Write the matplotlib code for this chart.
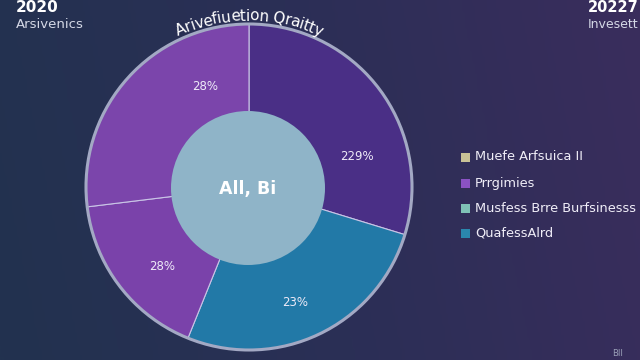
import numpy as np
import matplotlib
matplotlib.use("Agg")
import matplotlib.pyplot as plt
from matplotlib.colors import LinearSegmentedColormap
from matplotlib.textpath import text_to_path
from matplotlib.font_manager import FontProperties

# ---- data ----
segments = ["Right", "Blue", "Lower left", "Upper left"]
values = [107, 95, 61, 97]
pct_labels = ["229%", "23%", "28%", "28%"]
colors = ["#4a2f86", "#2279a7", "#7a42aa", "#7b45ab"]
legend_labels = ["Muefe Arfsuica II", "Prrgimies", "Musfess Brre Burfsinesss", "QuafessAlrd"]
legend_colors = ["#c9c296", "#8a52c4", "#7fc2b6", "#2a87ad"]
title = "Arivefiuetion Qraitty"
center_text = "All, Bi"

W, H = 640, 360
fig = plt.figure(figsize=(6.4, 3.6), dpi=100)
ax = fig.add_axes([0, 0, 1, 1])

# background gradient
cmap = LinearSegmentedColormap.from_list("bg", ["#22324f", "#2b2f56", "#3a2d5d"])
gx = np.linspace(0, 1, 256)
gy = np.linspace(0, 1, 64)
G = gx[None, :] * 0.9 + gy[:, None] * 0.1
ax.imshow(G, extent=[0, W, 0, H], cmap=cmap, aspect="auto", origin="lower", zorder=0)

cx, cy, R = 249, 360 - 187, 163
wedges, _ = ax.pie(values, colors=colors, startangle=90, counterclock=False,
                   center=(cx, cy), radius=R, frame=True,
                   wedgeprops=dict(edgecolor="#c9c4e6", linewidth=0.8))
ax.set_xlim(0, W)
ax.set_ylim(0, H)
ax.set_aspect("auto")
ax.axis("off")
ring = plt.Circle((cx, cy), R, fill=False, edgecolor="#a3a9c4", linewidth=2.2, zorder=5)
ax.add_patch(ring)
inner = plt.Circle((cx - 1, cy - 1), 77, facecolor="#8fb4c8", edgecolor="none", zorder=6)
ax.add_patch(inner)
ax.text(cx - 1, cy - 2, center_text, color="white", fontsize=12.5, ha="center", va="center",
        fontweight="bold", zorder=7)

# percentage labels
label_pos = [(357, 157), (295, 302), (162, 267), (205, 87)]
for (px, py), t in zip(label_pos, pct_labels):
    ax.text(px, H - py, t, color="#eeeaf8", fontsize=8.5, ha="center", va="center", zorder=7)

# curved title along arc
tsize = 11
fp = FontProperties(family="DejaVu Sans", size=tsize)
arc_r = 171
px_per_pt = 100 / 72.0
widths = [text_to_path.get_text_width_height_descent(ch, fp, ismath=False)[0] * px_per_pt
          for ch in title]
widths = [w * 0.97 for w in widths]
total = sum(widths)
ang_total = total / arc_r
a = np.pi / 2 + ang_total / 2
for ch, w in zip(title, widths):
    da = w / arc_r
    mid = a - da / 2
    x = cx + arc_r * np.cos(mid)
    y = cy + arc_r * np.sin(mid)
    ax.text(x, y, ch, color="white", fontsize=tsize, ha="center", va="center",
            rotation=np.degrees(mid - np.pi / 2), rotation_mode="anchor", zorder=8)
    a -= da

# corner texts
ax.text(16, H - 8, "2020", color="white", fontsize=11, ha="left", va="center", fontweight="bold")
ax.text(16, H - 24, "Arsivenics", color="#d4d8e6", fontsize=9.5, ha="left", va="center")
ax.text(588, H - 8, "20227", color="white", fontsize=10.5, ha="left", va="center", fontweight="bold")
ax.text(588, H - 24, "Invesett", color="#d4d8e6", fontsize=9, ha="left", va="center")
ax.text(612, 6, "BII", color="#9aa0b8", fontsize=6, ha="left", va="center")

# legend
ly0 = [157, 183, 208, 233]
for yy, lab, col in zip(ly0, legend_labels, legend_colors):
    ax.add_patch(plt.Rectangle((461, H - yy - 4.5), 9, 9, facecolor=col, edgecolor="none", zorder=5))
    ax.text(475, H - yy, lab, color="#f0eef8", fontsize=9.3, ha="left", va="center", zorder=5)

fig.savefig("out.png", dpi=100)
